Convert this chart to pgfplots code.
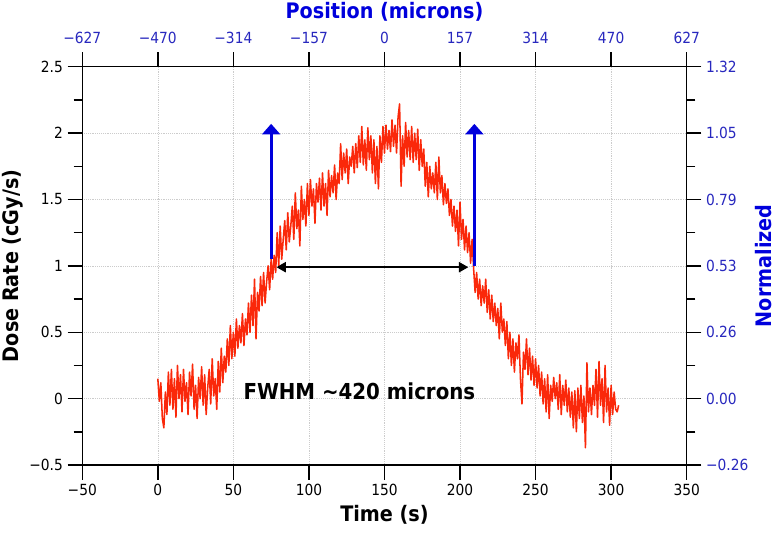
\documentclass[border=0pt]{standalone}
\usepackage{pgfplots}
\pgfplotsset{compat=1.18}
\usepackage{fontspec}
\setmainfont{DejaVu Sans Condensed}
\usetikzlibrary{arrows.meta}

\definecolor{dosered}{RGB}{250,40,10}
\definecolor{tickblue}{RGB}{40,40,190}
\definecolor{labblue}{RGB}{0,0,220}

\begin{document}
\begin{tikzpicture}
\path[use as bounding box] (-61.7pt,-53.25pt) rectangle (523.3pt,348.75pt);

% bottom / left axis: time and dose rate
\begin{axis}[
    at={(0,0)}, anchor=south west,
    scale only axis, width=453.3pt, height=298.7pt,
    xmin=-50, xmax=350, ymin=-0.5, ymax=2.5,
    xtick={-50,0,50,100,150,200,250,300,350},
    xticklabels={−50,0,50,100,150,200,250,300,350},
    ytick={-0.5,0,0.5,1,1.5,2,2.5},
    yticklabels={−0.5,0,0.5,1,1.5,2,2.5},
    minor y tick num=1,
    xtick pos=bottom, ytick pos=left,
    tick align=outside,
    major tick length=11pt, minor tick length=6.5pt,
    grid=major,
    major grid style={densely dotted, gray!40, line width=0.4pt},
    axis line style={line width=1.1pt},
    every tick/.style={black, line width=1.1pt},
    ticklabel style={font=\fontsize{11.5}{13}\selectfont},
    xlabel={\bfseries Time (s)},
    ylabel={\bfseries Dose Rate (cGy/s)},
    label style={font=\fontsize{16}{19}\selectfont},
    xlabel style={at={(axis description cs:0.5,-0.1255)}, anchor=center},
    ylabel style={at={(axis description cs:-0.1145,0.5)}, anchor=center},
]
\addplot[dosered, line width=1.15pt, line join=round] coordinates {
(0,0.15)(1,-0.02)(2,0.12)(3,-0.15)(4,-0.22)(5,0.05)(6,-0.12)(7,0.2)(8,-0.05)(9,0.22)
(10,-0.08)(11,0.15)(12,-0.14)(13,0.25)(14,0.0)(15,0.18)(16,-0.1)(17,0.22)(18,-0.02)(19,0.12)
(20,-0.12)(21,0.2)(22,0.02)(23,0.26)(24,-0.08)(25,0.1)(26,-0.15)(27,0.16)(28,0.0)(29,0.24)
(30,-0.05)(31,0.18)(32,-0.12)(33,0.08)(34,0.22)(35,-0.04)(36,0.3)(37,0.02)(38,0.15)(39,-0.08)
(40,0.28)(41,0.05)(42,0.38)(43,0.12)(44,0.32)(45,0.2)(46,0.45)(47,0.25)(48,0.55)(49,0.3)
(50,0.5)(51,0.32)(52,0.6)(53,0.38)(54,0.55)(55,0.42)(56,0.64)(57,0.4)(58,0.6)(59,0.48)
(60,0.72)(61,0.5)(62,0.78)(63,0.55)(64,0.9)(65,0.45)(66,0.8)(67,0.66)(68,0.92)(69,0.7)
(70,0.95)(71,0.72)(72,0.88)(73,1.0)(74,0.82)(75,1.05)(76,0.9)(77,1.08)(78,0.95)(79,1.25)
(80,1.0)(81,1.3)(82,1.05)(83,1.2)(84,1.34)(85,1.12)(86,1.4)(87,1.18)(88,1.3)(89,1.45)
(90,1.2)(91,1.55)(92,1.28)(93,1.42)(94,1.15)(95,1.6)(96,1.35)(97,1.5)(98,1.3)(99,1.62)
(100,1.38)(101,1.65)(102,1.45)(103,1.58)(104,1.32)(105,1.62)(106,1.48)(107,1.66)(108,1.42)(109,1.7)
(110,1.45)(111,1.62)(112,1.38)(113,1.72)(114,1.52)(115,1.68)(116,1.55)(117,1.76)(118,1.5)(119,1.7)
(120,1.62)(121,1.92)(122,1.65)(123,1.85)(124,1.7)(125,1.88)(126,1.62)(127,1.82)(128,1.75)(129,1.9)
(130,1.7)(131,1.92)(132,1.74)(133,1.98)(134,1.78)(135,2.05)(136,1.76)(137,1.95)(138,1.72)(139,2.04)
(140,1.8)(141,1.98)(142,1.7)(143,1.95)(144,1.62)(145,1.9)(146,1.58)(147,1.98)(148,1.78)(149,2.05)
(150,1.85)(151,2.06)(152,1.88)(153,2.02)(154,1.86)(155,2.1)(156,1.9)(157,2.06)(158,1.85)(159,2.12)
(160,2.22)(161,1.6)(162,1.98)(163,1.75)(164,2.08)(165,1.82)(166,2.02)(167,1.8)(168,2.05)(169,1.78)
(170,2.0)(171,1.8)(172,2.03)(173,1.72)(174,1.95)(175,1.75)(176,1.88)(177,1.6)(178,1.78)(179,1.52)
(180,1.75)(181,1.58)(182,1.7)(183,1.55)(184,1.78)(185,1.5)(186,1.82)(187,1.55)(188,1.68)(189,1.46)
(190,1.62)(191,1.47)(192,1.58)(193,1.38)(194,1.5)(195,1.3)(196,1.45)(197,1.26)(198,1.42)(199,1.15)
(200,1.48)(201,1.2)(202,1.35)(203,1.12)(204,1.3)(205,1.1)(206,1.25)(207,1.02)(208,1.2)(209,0.98)
(210,0.8)(211,0.95)(212,0.75)(213,0.9)(214,0.7)(215,0.85)(216,0.72)(217,0.9)(218,0.65)(219,0.82)
(220,0.6)(221,0.78)(222,0.58)(223,0.72)(224,0.55)(225,0.68)(226,0.45)(227,0.72)(228,0.5)(229,0.6)
(230,0.4)(231,0.58)(232,0.3)(233,0.5)(234,0.25)(235,0.45)(236,0.2)(237,0.42)(238,0.3)(239,0.48)
(240,0.15)(241,-0.04)(242,0.35)(243,0.22)(244,0.45)(245,0.18)(246,0.38)(247,0.14)(248,0.32)(249,0.1)
(250,0.3)(251,0.08)(252,0.25)(253,0.02)(254,0.2)(255,-0.04)(256,0.15)(257,-0.1)(258,0.18)(259,-0.15)
(260,0.1)(261,-0.02)(262,0.16)(263,0.0)(264,0.12)(265,-0.08)(266,0.18)(267,-0.12)(268,0.1)(269,-0.05)
(270,0.14)(271,-0.1)(272,0.08)(273,-0.14)(274,0.05)(275,-0.22)(276,0.06)(277,-0.25)(278,0.08)(279,-0.15)
(280,0.1)(281,-0.18)(282,0.02)(283,-0.37)(284,0.27)(285,-0.1)(286,0.08)(287,-0.12)(288,0.1)(289,-0.05)
(290,0.22)(291,-0.14)(292,0.28)(293,-0.05)(294,0.15)(295,-0.18)(296,0.25)(297,-0.1)(298,0.08)(299,-0.2)
(300,0.1)(301,-0.12)(302,0.05)(303,-0.08)(304,-0.1)(305,-0.05)
};

% FWHM markers
\draw[labblue, line width=2.3pt, -{Triangle[width=13.5pt,length=8pt]}]
    (axis cs:75,1.05) -- (axis cs:75,2.07);
\draw[labblue, line width=2.3pt, -{Triangle[width=13.5pt,length=8pt]}]
    (axis cs:209.5,1.0) -- (axis cs:209.5,2.07);
\draw[black, line width=1.5pt, {Triangle[width=7.5pt,length=7pt]}-{Triangle[width=7.5pt,length=7pt]}]
    (axis cs:78.5,0.99) -- (axis cs:205.5,0.99);
\node[font=\bfseries\fontsize{16.5}{19}\selectfont] at (axis cs:133.4,0.057) {FWHM \textasciitilde420 microns};
\end{axis}

% top / right axis: position and normalized dose
\begin{axis}[
    at={(0,0)}, anchor=south west,
    scale only axis, width=453.3pt, height=298.7pt,
    xmin=-50, xmax=350, ymin=-0.5, ymax=2.5,
    xtick={-50,0,50,100,150,200,250,300,350},
    xticklabels={−627,−470,−314,−157,0,157,314,470,627},
    ytick={-0.5,0,0.5,1,1.5,2,2.5},
    yticklabels={−0.26,0.00,0.26,0.53,0.79,1.05,1.32},
    minor y tick num=1,
    xtick pos=top, xticklabel pos=top,
    ytick pos=right, yticklabel pos=right,
    tick align=outside,
    major tick length=11pt, minor tick length=6.5pt,
    axis line style={line width=1.1pt},
    every tick/.style={black, line width=1.1pt},
    ticklabel style={font=\fontsize{11.5}{13}\selectfont, text=tickblue},
    xticklabel style={yshift=3pt},
    xlabel={\bfseries Position (microns)},
    ylabel={\bfseries Normalized},
    label style={text=labblue},
    xlabel style={font=\fontsize{16}{19}\selectfont, at={(axis description cs:0.5,1.137)}, anchor=center},
    ylabel style={font=\fontsize{16}{19}\selectfont, at={(axis description cs:1.127,0.5)}, anchor=center},
]
\end{axis}
\end{tikzpicture}
\end{document}
